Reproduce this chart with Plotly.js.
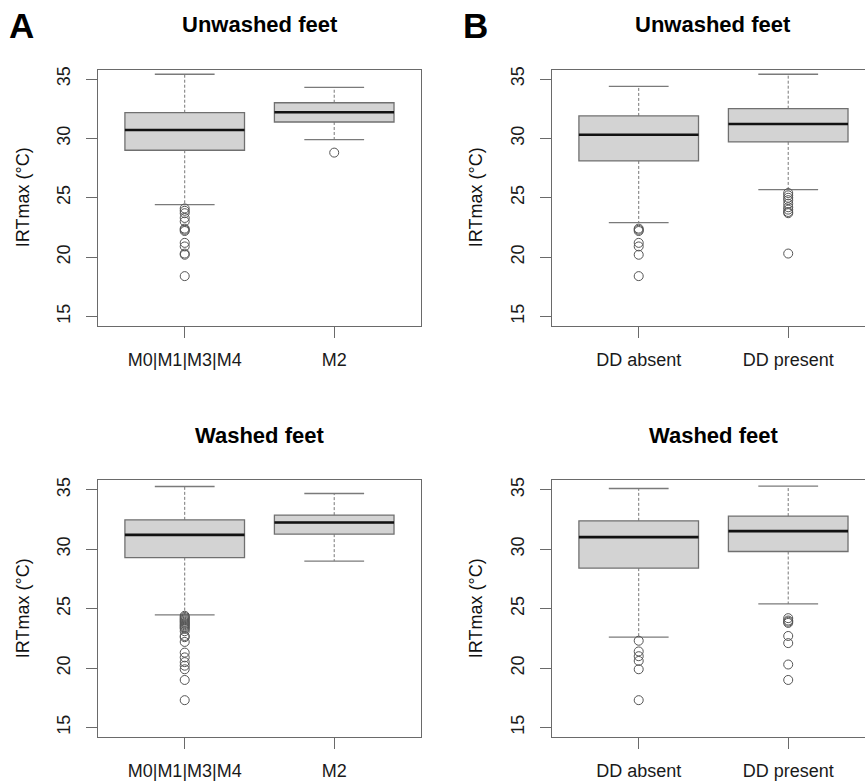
<!DOCTYPE html>
<html>
<head>
<meta charset="utf-8">
<script src="https://cdn.plot.ly/plotly-3.0.1.min.js"></script>
<style>
  html, body { margin: 0; padding: 0; background: #fff; overflow: hidden; }
  #chart { width: 865px; height: 782px; }
</style>
</head>
<body>
<div id="chart"></div>
<script>
// ---------------- DATA ----------------
const groupsA = ["M0|M1|M3|M4", "M2"];
const groupsB = ["DD absent", "DD present"];
const yTicks = [15, 20, 25, 30, 35];
const panelTitles = ["Unwashed feet", "Unwashed feet", "Washed feet", "Washed feet"];
const panelLetters = ["A", "B"];
const yTitle = "IRTmax (°C)";

// Panel A – Unwashed feet
const aUnwLow  = [24.42, 29.89];
const aUnwQ1   = [29.00, 31.38];
const aUnwMed  = [30.71, 32.20];
const aUnwQ3   = [32.16, 33.00];
const aUnwHigh = [35.40, 34.30];
const aUnwOut1 = [24.1, 23.9, 23.7, 23.3, 23.0, 22.4, 22.3, 22.2, 21.2, 20.9, 20.3, 20.2, 18.4];
const aUnwOut2 = [28.8];

// Panel B – Unwashed feet
const bUnwLow  = [22.90, 25.68];
const bUnwQ1   = [28.10, 29.70];
const bUnwMed  = [30.31, 31.21];
const bUnwQ3   = [31.89, 32.50];
const bUnwHigh = [34.38, 35.40];
const bUnwOut1 = [22.4, 22.3, 22.2, 21.2, 20.9, 20.2, 18.4];
const bUnwOut2 = [25.4, 25.2, 25.0, 24.8, 24.5, 24.2, 24.0, 23.8, 23.7, 20.3];

// Panel A – Washed feet
const aWasLow  = [24.48, 29.00];
const aWasQ1   = [29.30, 31.27];
const aWasMed  = [31.21, 32.25];
const aWasQ3   = [32.47, 32.87];
const aWasHigh = [35.28, 34.69];
const aWasOut1 = [24.4, 24.3, 24.2, 24.1, 24.0, 23.9, 23.8, 23.7, 23.6, 23.5, 23.4, 23.3, 23.1,
                  22.7, 22.6, 22.2, 21.3, 20.9, 20.5, 20.2, 19.9, 19.0, 17.3];
const aWasOut2 = [];

// Panel B – Washed feet
const bWasLow  = [22.60, 25.40];
const bWasQ1   = [28.41, 29.81];
const bWasMed  = [31.02, 31.52];
const bWasQ3   = [32.39, 32.79];
const bWasHigh = [35.11, 35.31];
const bWasOut1 = [22.3, 21.4, 21.0, 20.6, 19.9, 17.3];
const bWasOut2 = [24.2, 24.0, 23.9, 23.8, 22.7, 22.1, 20.3, 19.0];

// ---------------- STYLE ----------------
const W = 865, H = 782;
const FONT = "Liberation Sans, Arial, Helvetica, sans-serif";
const BOX_HALF = 0.4, CAP_HALF = 0.2;
const frameColor = "#6a6a6a";
const px = v => v / W;
const py = v => 1 - v / H;

const traces = [];
function addPanel(ax, q1, med, q3, lo, hi, outs) {
  const xa = "x" + ax, ya = "y" + ax;
  const pos = q1.map((_, i) => i + 1);
  // boxes (whiskers drawn separately in R style)
  traces.push({
    type: "box", x: pos, q1: q1, median: med, q3: q3,
    lowerfence: q1, upperfence: q3, width: 2 * BOX_HALF, whiskerwidth: 0,
    fillcolor: "#d3d3d3", line: { color: "#707070", width: 1.3 },
    boxpoints: false, xaxis: xa, yaxis: ya, showlegend: false, hoverinfo: "skip"
  });
  // medians
  const mx = [], my = [];
  pos.forEach((p, i) => { mx.push(p - BOX_HALF, p + BOX_HALF, null); my.push(med[i], med[i], null); });
  traces.push({ type: "scatter", mode: "lines", x: mx, y: my, xaxis: xa, yaxis: ya,
    line: { color: "#111", width: 2.6 }, showlegend: false, hoverinfo: "skip" });
  // dashed whiskers
  const wx = [], wy = [];
  pos.forEach((p, i) => { wx.push(p, p, null, p, p, null); wy.push(q3[i], hi[i], null, q1[i], lo[i], null); });
  traces.push({ type: "scatter", mode: "lines", x: wx, y: wy, xaxis: xa, yaxis: ya,
    line: { color: "#777", width: 1, dash: "3px,2px" }, showlegend: false, hoverinfo: "skip" });
  // whisker caps
  const cx = [], cy = [];
  pos.forEach((p, i) => {
    cx.push(p - CAP_HALF, p + CAP_HALF, null, p - CAP_HALF, p + CAP_HALF, null);
    cy.push(hi[i], hi[i], null, lo[i], lo[i], null);
  });
  traces.push({ type: "scatter", mode: "lines", x: cx, y: cy, xaxis: xa, yaxis: ya,
    line: { color: "#7a7a7a", width: 1.3 }, showlegend: false, hoverinfo: "skip" });
  // outliers
  const ox = [], oy = [];
  outs.forEach((arr, i) => arr.forEach(v => { ox.push(pos[i]); oy.push(v); }));
  traces.push({ type: "scatter", mode: "markers", x: ox, y: oy, xaxis: xa, yaxis: ya,
    marker: { symbol: "circle-open", size: 9, color: "#555", line: { width: 1, color: "#555" } },
    showlegend: false, hoverinfo: "skip" });
}

addPanel("",  aUnwQ1, aUnwMed, aUnwQ3, aUnwLow, aUnwHigh, [aUnwOut1, aUnwOut2]);
addPanel("2", bUnwQ1, bUnwMed, bUnwQ3, bUnwLow, bUnwHigh, [bUnwOut1, bUnwOut2]);
addPanel("3", aWasQ1, aWasMed, aWasQ3, aWasLow, aWasHigh, [aWasOut1, aWasOut2]);
addPanel("4", bWasQ1, bWasMed, bWasQ3, bWasLow, bWasHigh, [bWasOut1, bWasOut2]);

// ---------------- LAYOUT ----------------
const unit = 149.5; // px per category unit
const leftA = 98, rightA = 421, leftB = 552, rightB = 865;
const rowTop = [[69.5, 326], [480.3, 737]];

function xAxis(left, right, cats, anchor, mirror) {
  return {
    domain: [px(left), px(right)], anchor: anchor,
    range: [0.42, 0.42 + (right - left) / unit],
    tickvals: cats.map((_, i) => i + 1), ticktext: cats,
    ticks: "outside", ticklen: 11, tickwidth: 1, tickcolor: frameColor,
    showline: true, linecolor: frameColor, linewidth: 1, mirror: mirror,
    showgrid: false, zeroline: false, automargin: false, fixedrange: true,
    tickfont: { family: FONT, size: 18, color: "#1a1a1a" }, ticklabelstandoff: 6
  };
}
function yAxis(row, anchor, mirror) {
  const [t, b] = rowTop[row];
  return {
    domain: [py(b), py(t)], anchor: anchor, range: [14.2, 35.8],
    tickvals: yTicks, ticktext: yTicks.map(String), tickangle: -90,
    ticks: "outside", ticklen: 11, tickwidth: 1, tickcolor: frameColor,
    showline: true, linecolor: frameColor, linewidth: 1, mirror: mirror,
    showgrid: false, zeroline: false, automargin: false, fixedrange: true,
    tickfont: { family: FONT, size: 18, color: "#1a1a1a" }, ticklabelstandoff: 9
  };
}

const annotations = [];
function ann(text, x, y, size, extra) {
  annotations.push(Object.assign({
    text: text, xref: "paper", yref: "paper", x: px(x), y: py(y),
    xanchor: "center", yanchor: "middle", showarrow: false,
    font: { family: FONT, size: size, color: "#000" }
  }, extra || {}));
}
const cA = (leftA + rightA) / 2, cB = leftB + 1.08 * unit;
ann("<b>" + panelTitles[0] + "</b>", cA, 24.7, 22);
ann("<b>" + panelTitles[1] + "</b>", cB, 24.7, 22);
ann("<b>" + panelTitles[2] + "</b>", cA, 435.8, 22);
ann("<b>" + panelTitles[3] + "</b>", cB, 435.8, 22);
ann("<b>" + panelLetters[0] + "</b>", 21.7, 25, 35);
ann("<b>" + panelLetters[1] + "</b>", 475.5, 25, 35);
[[22.5, 197.7], [475.5, 197.7], [22.5, 608.7], [475.5, 608.7]].forEach(([x, y]) =>
  ann(yTitle, x, y, 18, { textangle: -90, font: { family: FONT, size: 18, color: "#111" } }));

const layout = {
  width: W, height: H, margin: { l: 0, r: 0, t: 0, b: 0 },
  paper_bgcolor: "#fff", plot_bgcolor: "#fff", showlegend: false,
  xaxis:  xAxis(leftA, rightA, groupsA, "y",  true),
  yaxis:  yAxis(0, "x",  true),
  xaxis2: xAxis(leftB, rightB, groupsB, "y2", true),
  yaxis2: yAxis(0, "x2", false),
  xaxis3: xAxis(leftA, rightA, groupsA, "y3", true),
  yaxis3: yAxis(1, "x3", true),
  xaxis4: xAxis(leftB, rightB, groupsB, "y4", true),
  yaxis4: yAxis(1, "x4", false),
  annotations: annotations
};

Plotly.newPlot("chart", traces, layout, { staticPlot: true, displayModeBar: false });
</script>
</body>
</html>
